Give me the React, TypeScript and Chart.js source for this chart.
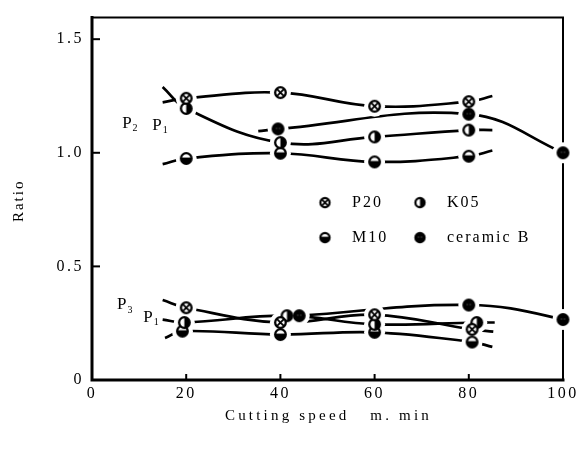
import { useEffect, useRef } from 'react';
import { Chart, registerables } from 'chart.js';

Chart.register(...registerables);

// ---- axes ----
const xTickValues = [0, 20, 40, 60, 80, 100];
const yTickValues = [0, 0.5, 1.0, 1.5];
const yTickLabels = ['0', '0.5', '1.0', '1.5'];
const xTitle = 'Cutting speed   m. min';
const yTitle = 'Ratio';

// ---- legend ----
const seriesNames = ['P20', 'K05', 'M10', 'ceramic B'];
const seriesKinds = ['p20', 'k05', 'm10', 'ceramic'];

// ---- upper group (P2 / P1) ----
const p20UpperX = [20, 40, 60, 80];
const p20UpperY = [1.24, 1.265, 1.205, 1.225];
const p20UpperStart = [15, 1.222];
const p20UpperEnd = [85, 1.25];

const k05UpperX = [20, 40, 60, 80];
const k05UpperY = [1.195, 1.045, 1.07, 1.1];
const k05UpperStart = [15, 1.29];
const k05UpperEnd = [85, 1.1];

const m10UpperX = [20, 40, 60, 80];
const m10UpperY = [0.975, 0.998, 0.96, 0.985];
const m10UpperStart = [15, 0.95];
const m10UpperEnd = [85, 1.01];

const cerUpperX = [39.5, 80, 100];
const cerUpperY = [1.105, 1.17, 1.0];
const cerUpperStart = [35.3, 1.095];
const cerUpperEnd = [103.2, 0.96];

// ---- lower group (P3 / P1) ----
const p20LowerX = [20, 40, 60, 80.7];
const p20LowerY = [0.318, 0.253, 0.287, 0.223];
const p20LowerStart = [15, 0.352];
const p20LowerEnd = [85.2, 0.213];

const k05LowerX = [19.6, 41.4, 60, 81.7];
const k05LowerY = [0.253, 0.283, 0.245, 0.253];
const k05LowerStart = [15, 0.266];
const k05LowerEnd = [85.5, 0.253];

const m10LowerX = [19.2, 40, 60, 80.7];
const m10LowerY = [0.215, 0.2, 0.21, 0.167];
const m10LowerStart = [15.5, 0.185];
const m10LowerEnd = [85, 0.146];

const cerLowerX = [44, 80, 100];
const cerLowerY = [0.283, 0.33, 0.266];
const cerLowerEnd = [103, 0.223];

type Pt = { x: number; y: number };
const pts = (xs: number[], ys: number[]): Pt[] => xs.map((x, i) => ({ x, y: ys[i] }));
const withEnds = (xs: number[], ys: number[], start: number[] | null, end: number[] | null): Pt[] => [
  ...(start ? [{ x: start[0], y: start[1] }] : []),
  ...pts(xs, ys),
  ...(end ? [{ x: end[0], y: end[1] }] : []),
];

const curves = [
  { kind: 'p20', xs: p20UpperX, ys: p20UpperY, start: p20UpperStart, end: p20UpperEnd },
  { kind: 'k05', xs: k05UpperX, ys: k05UpperY, start: k05UpperStart, end: k05UpperEnd },
  { kind: 'm10', xs: m10UpperX, ys: m10UpperY, start: m10UpperStart, end: m10UpperEnd },
  { kind: 'ceramic', xs: cerUpperX, ys: cerUpperY, start: cerUpperStart, end: cerUpperEnd },
  { kind: 'p20', xs: p20LowerX, ys: p20LowerY, start: p20LowerStart, end: p20LowerEnd },
  { kind: 'k05', xs: k05LowerX, ys: k05LowerY, start: k05LowerStart, end: k05LowerEnd },
  { kind: 'm10', xs: m10LowerX, ys: m10LowerY, start: m10LowerStart, end: m10LowerEnd },
  { kind: 'ceramic', xs: cerLowerX, ys: cerLowerY, start: null, end: cerLowerEnd },
];

const FONT = '"Liberation Serif", "DejaVu Serif", serif';

function makeMarker(kind: string, r: number, lw: number): HTMLCanvasElement {
  const pad = Math.ceil(lw) + 1;
  let size = Math.ceil(2 * r + 2 * pad);
  if (size % 2 === 0) size += 1;
  const c = document.createElement('canvas');
  c.width = size;
  c.height = size;
  const g = c.getContext('2d') as CanvasRenderingContext2D;
  const cx = size / 2;
  const cy = size / 2;
  g.fillStyle = '#fff';
  g.beginPath();
  g.arc(cx, cy, r, 0, Math.PI * 2);
  g.fill();
  g.fillStyle = '#000';
  g.strokeStyle = '#000';
  if (kind === 'k05') {
    g.beginPath();
    g.moveTo(cx, cy);
    g.arc(cx, cy, r, -Math.PI / 2, Math.PI / 2);
    g.closePath();
    g.fill();
  }
  if (kind === 'm10') {
    g.beginPath();
    g.moveTo(cx, cy);
    g.arc(cx, cy, r, 0, Math.PI);
    g.closePath();
    g.fill();
    g.lineWidth = lw * 0.8;
    g.beginPath();
    g.moveTo(cx - r, cy);
    g.lineTo(cx + r, cy);
    g.stroke();
  }
  if (kind === 'ceramic') {
    g.beginPath();
    g.arc(cx, cy, r, 0, Math.PI * 2);
    g.fill();
    g.fillStyle = '#777';
    g.fillRect(cx - 2, cy - 1, 1, 1);
    g.fillRect(cx + 1, cy - 1, 1, 1);
  }
  if (kind === 'p20') {
    const d = r * 0.68;
    g.lineWidth = lw * 0.8;
    g.beginPath();
    g.moveTo(cx - d, cy - d);
    g.lineTo(cx + d, cy + d);
    g.moveTo(cx + d, cy - d);
    g.lineTo(cx - d, cy + d);
    g.stroke();
  }
  g.lineWidth = lw;
  g.beginPath();
  g.arc(cx, cy, r, 0, Math.PI * 2);
  g.stroke();
  return c;
}

function drawP(ctx: CanvasRenderingContext2D, x: number, y: number, sub: string) {
  ctx.font = `17px ${FONT}`;
  ctx.textAlign = 'left';
  ctx.textBaseline = 'middle';
  ctx.fillText('P', x, y);
  const w = ctx.measureText('P').width;
  ctx.font = `10px ${FONT}`;
  ctx.fillText(sub, x + w + 1, y + 5);
}

export default function App() {
  const canvasRef = useRef<HTMLCanvasElement | null>(null);

  useEffect(() => {
    const canvas = canvasRef.current;
    if (!canvas) return;

    const markerImgs: Record<string, HTMLCanvasElement> = {};
    const legendImgs: Record<string, HTMLCanvasElement> = {};
    for (const k of seriesKinds) {
      markerImgs[k] = makeMarker(k, 5.3, 2.3);
      legendImgs[k] = makeMarker(k, 4.6, 2.2);
    }

    const lineSets = curves.map((c) => ({
      data: withEnds(c.xs, c.ys, c.start, c.end),
      borderColor: '#000',
      borderWidth: 2.7,
      tension: 0.4,
      pointRadius: 0,
      fill: false,
      clip: false as any,
      order: 2,
    }));
    const haloSets = curves.map((c) => ({
      data: pts(c.xs, c.ys),
      showLine: false,
      pointRadius: 10.5,
      pointHoverRadius: 10.5,
      pointBackgroundColor: '#fff',
      pointBorderWidth: 0,
      pointBorderColor: '#fff',
      clip: false as any,
      order: 1,
    }));
    const markerSets = curves.map((c) => ({
      data: pts(c.xs, c.ys),
      showLine: false,
      pointStyle: markerImgs[c.kind],
      pointRadius: 6,
      pointHoverRadius: 6,
      clip: false as any,
      order: 0,
    }));

    const decor = {
      id: 'decor',
      beforeDraw(chart: any) {
        (chart.ctx as any).letterSpacing = '2.5px';
      },
      beforeDatasetsDraw(chart: any) {
        const { ctx, chartArea: a, scales } = chart;
        ctx.save();
        (ctx as any).letterSpacing = '0px';
        ctx.strokeStyle = '#000';
        ctx.lineCap = 'square';
        // frame
        ctx.lineWidth = 3;
        ctx.beginPath();
        ctx.moveTo(a.left, a.top);
        ctx.lineTo(a.left, a.bottom);
        ctx.lineTo(a.right, a.bottom);
        ctx.stroke();
        ctx.lineWidth = 2;
        ctx.beginPath();
        ctx.moveTo(a.left, a.top);
        ctx.lineTo(a.right, a.top);
        ctx.lineTo(a.right, a.bottom);
        ctx.stroke();
        // inward ticks
        ctx.lineWidth = 2;
        ctx.lineCap = 'butt';
        for (const v of yTickValues) {
          if (v === 0) continue;
          const y = scales.y.getPixelForValue(v);
          ctx.beginPath();
          ctx.moveTo(a.left, y);
          ctx.lineTo(a.left + 8, y);
          ctx.stroke();
        }
        for (const v of xTickValues) {
          if (v === 0 || v === 100) continue;
          const x = scales.x.getPixelForValue(v);
          ctx.beginPath();
          ctx.moveTo(x, a.bottom);
          ctx.lineTo(x, a.bottom - 6);
          ctx.stroke();
        }
        ctx.restore();
      },
      afterDatasetsDraw(chart: any) {
        const { ctx, chartArea: a, scales } = chart;
        ctx.save();
        ctx.fillStyle = '#000';
        // legend inside plot
        const legendPos = [
          [a.left + 233, a.top + 185],
          [a.left + 328, a.top + 185],
          [a.left + 233, a.top + 220],
          [a.left + 328, a.top + 220],
        ];
        seriesKinds.forEach((k, i) => {
          const img = legendImgs[k];
          const [lx, ly] = legendPos[i];
          ctx.drawImage(img, lx - img.width / 2, ly - img.height / 2);
          (ctx as any).letterSpacing = '2px';
          ctx.font = `16px ${FONT}`;
          ctx.textAlign = 'left';
          ctx.textBaseline = 'middle';
          ctx.fillText(seriesNames[i], lx + 27, ly);
        });
        // group labels
        (ctx as any).letterSpacing = '0px';
        const sx = scales.x;
        const sy = scales.y;
        drawP(ctx, sx.getPixelForValue(6.4), sy.getPixelForValue(1.13), '2');
        drawP(ctx, sx.getPixelForValue(12.8), sy.getPixelForValue(1.12), '1');
        drawP(ctx, sx.getPixelForValue(5.3), sy.getPixelForValue(0.33), '3');
        drawP(ctx, sx.getPixelForValue(10.9), sy.getPixelForValue(0.275), '1');
        ctx.restore();
      },
      afterDraw(chart: any) {
        const { ctx, chartArea: a } = chart;
        ctx.save();
        ctx.fillStyle = '#000';
        ctx.font = `15px ${FONT}`;
        ctx.textBaseline = 'middle';
        ctx.textAlign = 'center';
        (ctx as any).letterSpacing = '3.2px';
        ctx.fillText(xTitle, (a.left + a.right) / 2 + 1, a.bottom + 36);
        (ctx as any).letterSpacing = '2px';
        ctx.translate(19, (a.top + a.bottom) / 2 + 2);
        ctx.rotate(-Math.PI / 2);
        ctx.fillText(yTitle, 0, 0);
        ctx.restore();
        (ctx as any).letterSpacing = '0px';
      },
    };

    const chart = new Chart(canvas, {
      type: 'line',
      data: { datasets: [...markerSets, ...haloSets, ...lineSets] as any },
      options: {
        responsive: false,
        animation: false,
        events: [],
        layout: { padding: { left: 0, top: 10, right: 25, bottom: 0 } },
        plugins: { legend: { display: false }, tooltip: { enabled: false } },
        scales: {
          x: {
            type: 'linear',
            min: 0,
            max: 100,
            afterBuildTicks: (s: any) => {
              s.ticks = xTickValues.map((v) => ({ value: v }));
            },
            afterFit: (s: any) => {
              s.height = 70;
            },
            grid: { display: false, drawTicks: false },
            border: { display: false },
            ticks: {
              color: '#000',
              font: { family: FONT, size: 16 },
              padding: 4,
              maxRotation: 0,
              autoSkip: false,
              callback: (v: any) => String(v),
            },
          },
          y: {
            type: 'linear',
            min: 0,
            max: 1.595,
            afterBuildTicks: (s: any) => {
              s.ticks = yTickValues.map((v) => ({ value: v }));
            },
            afterFit: (s: any) => {
              s.width = 92;
            },
            grid: { display: false, drawTicks: false },
            border: { display: false },
            ticks: {
              color: '#000',
              font: { family: FONT, size: 16 },
              padding: 8,
              autoSkip: false,
              callback: (v: any) => yTickLabels[yTickValues.indexOf(Number(v))] ?? String(v),
            },
          },
        },
      },
      plugins: [decor as any],
    });

    return () => {
      chart.destroy();
    };
  }, []);

  return (
    <div style={{ position: 'fixed', left: 0, top: 0, width: 588, height: 450, background: '#fff' }}>
      <canvas ref={canvasRef} width={588} height={450} style={{ width: 588, height: 450, display: 'block' }} />
    </div>
  );
}
